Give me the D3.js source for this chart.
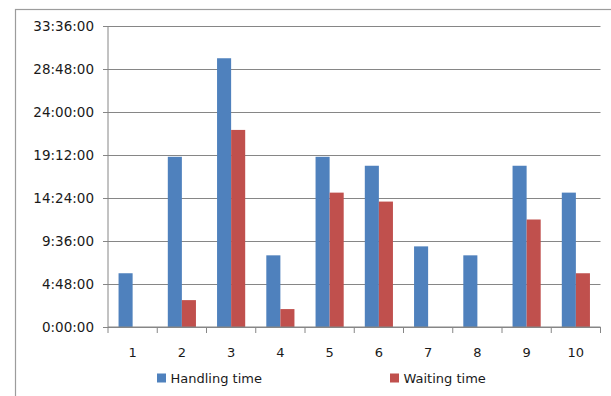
<!DOCTYPE html>
<html lang="en">
<head>
  <meta charset="UTF-8">
  <title>Handling and waiting time</title>
  <style>
    body { margin: 0; background: #fff; }
    text { font-family: 'DejaVu Sans', sans-serif; font-size: 13px; fill: #1a1a1a; }
  </style>
</head>
<body>
<div id="chart"></div>
<script src="https://cdn.jsdelivr.net/npm/d3@7"></script>
<script>
// data (hours)
let categories = ['1', '2', '3', '4', '5', '6', '7', '8', '9', '10']
let seriesNames = ['Handling time', 'Waiting time']
let handlingTime = [6, 19, 30, 8, 19, 18, 9, 8, 18, 15]
let waitingTime = [0, 3, 22, 2, 15, 14, 0, 0, 12, 6]
let yTickHours = [0, 4.8, 9.6, 14.4, 19.2, 24, 28.8, 33.6]
let colorArr = ['#4f81bd', '#c0504d']

let width = 611
let height = 396
// plot area edges
let plotLeft = 108, plotRight = 600.5, plotTop = 26, plotBottom = 327

let svg = d3.select('#chart').append('svg').attr('width', width).attr('height', height)

// outer chart border (runs off right / bottom edge)
svg.append('rect')
  .attr('x', 15.5).attr('y', 9.5)
  .attr('width', 700).attr('height', 500)
  .attr('fill', 'none').attr('stroke', '#9c9c9c').attr('stroke-width', 1.2)

// scales
let y = d3.scaleLinear().domain([0, 33.6 * 3600]).range([plotBottom, plotTop])
let x0 = d3.scaleBand().domain(categories).range([plotLeft, plotRight])
  .paddingInner(1.5 / 3.5).paddingOuter(0.75 / 3.5)
let x1 = d3.scaleBand().domain(seriesNames).range([0, x0.bandwidth()])

function fmt (s) {
  let h = Math.floor(s / 3600)
  let m = Math.round((s - h * 3600) / 60)
  return h + ':' + String(m).padStart(2, '0') + ':00'
}

// y axis with gridlines
let yAxis = d3.axisLeft(y)
  .tickValues(yTickHours.map(h => h * 3600))
  .tickFormat(fmt)
  .tickSize(5)
  .tickPadding(9)
let yg = svg.append('g').attr('class', 'yAxis').attr('transform', 'translate(' + plotLeft + ',0)').call(yAxis)
yg.select('.domain').remove()
yg.selectAll('.tick line').attr('stroke', '#868686')
yg.selectAll('.tick').append('line')
  .attr('x2', plotRight - plotLeft).attr('stroke', '#868686')
yg.selectAll('.tick text').attr('fill', '#1a1a1a').style('font-size', '13.5px')
svg.append('line')
  .attr('x1', plotLeft).attr('x2', plotLeft).attr('y1', plotTop).attr('y2', plotBottom)
  .attr('stroke', '#868686')

// bars
let rows = categories.map((c, i) => ({ cat: c, values: [handlingTime[i], waitingTime[i]] }))
let groups = svg.append('g').selectAll('g').data(rows).enter().append('g')
  .attr('transform', d => 'translate(' + x0(d.cat) + ',0)')
groups.selectAll('rect')
  .data(d => d.values.map((v, k) => ({ name: seriesNames[k], v: v, k: k })))
  .enter().append('rect')
  .filter(d => d.v > 0)
  .attr('x', d => x1(d.name))
  .attr('y', d => y(d.v * 3600))
  .attr('width', x1.bandwidth())
  .attr('height', d => plotBottom - y(d.v * 3600))
  .attr('fill', d => colorArr[d.k])

// x axis with boundary ticks
svg.append('line')
  .attr('x1', plotLeft).attr('x2', plotRight).attr('y1', plotBottom).attr('y2', plotBottom)
  .attr('stroke', '#868686')
let step = x0.step()
d3.range(categories.length + 1).forEach(i => {
  svg.append('line')
    .attr('x1', plotLeft + i * step).attr('x2', plotLeft + i * step)
    .attr('y1', plotBottom).attr('y2', plotBottom + 6)
    .attr('stroke', '#868686')
})
svg.append('g').selectAll('text').data(categories).enter().append('text')
  .attr('x', d => x0(d) + x0.bandwidth() / 2)
  .attr('y', 357)
  .attr('text-anchor', 'middle')
  .text(d => d)

// legend
let legendX = [157, 390]
seriesNames.forEach((name, i) => {
  svg.append('rect')
    .attr('x', legendX[i]).attr('y', 373.5)
    .attr('width', 9).attr('height', 9)
    .attr('fill', colorArr[i])
  svg.append('text')
    .attr('x', legendX[i] + 13.5).attr('y', 383)
    .text(name)
})
</script>
</body>
</html>
